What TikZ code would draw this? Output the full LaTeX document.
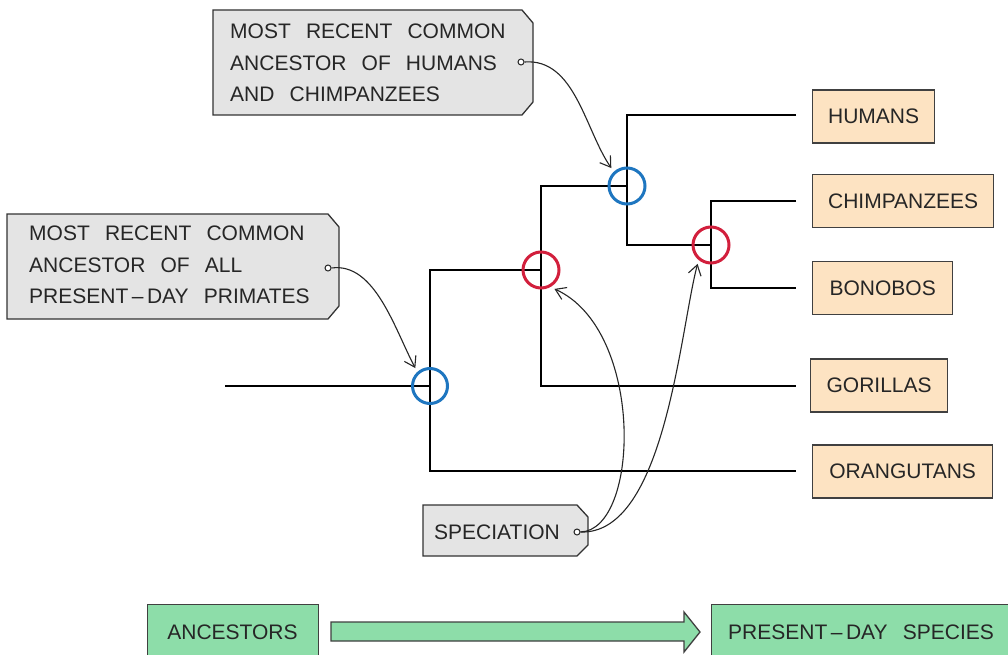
\documentclass[tikz,border=0pt]{standalone}
\usepackage{fontspec}
\setmainfont[WordSpace=2.6]{Liberation Sans}
\usetikzlibrary{arrows.meta,backgrounds}
\definecolor{tagfill}{HTML}{E4E4E4}
\definecolor{spfill}{HTML}{FDE3C2}
\definecolor{grfill}{HTML}{8DDDA9}
\definecolor{nblue}{HTML}{1E76C0}
\definecolor{nred}{HTML}{D21F3C}
\definecolor{txt}{HTML}{262626}
\begin{document}
\begin{tikzpicture}[x=1pt,y=-1pt,
  every node/.style={text=txt,font=\fontsize{21}{31.5}\selectfont},
  species/.style={draw=black!75,line width=1.3pt,fill=spfill,minimum height=53pt,inner sep=0pt,anchor=west},
  tagtext/.style={align=left,inner sep=0pt,anchor=north west},
  tagshape/.style={draw=black!80,line width=1.3pt,fill=tagfill},
  junc/.style={circle,minimum size=36pt,inner sep=0pt},
  branch/.style={line width=2.8pt,black},
  callarrow/.style={line width=1.1pt,black!85,-{Straight Barb[length=10pt,width=13pt]}},
  dotmark/.style={circle,draw=black!85,line width=1pt,fill=white,minimum size=6pt,inner sep=0pt},
  greenbox/.style={draw=black!75,line width=1.3pt,fill=grfill,inner sep=0pt}
]
\clip (0,0) rectangle (1008,655);

% species boxes
\node[species,minimum width=122pt] (hum) at (812,116.5) {HUMANS};
\node[species,minimum width=181pt] (chi) at (812,201) {CHIMPANZEES};
\node[species,minimum width=140pt] (bon) at (812,288) {BONOBOS};
\node[species,minimum width=137pt] (gor) at (810,385.5) {GORILLAS};
\node[species,minimum width=180pt] (ora) at (812,471.5) {ORANGUTANS};

% junctions
\node[junc] (j1) at (430,386) {};
\node[junc] (j2) at (541,270) {};
\node[junc] (j3) at (627,186) {};
\node[junc] (j4) at (711,245) {};

\coordinate (root) at (225,386);
\coordinate (humE) at (796,115);
\coordinate (chiE) at (796,201);
\coordinate (bonE) at (796,288);
\coordinate (gorE) at (796,386);
\coordinate (oraE) at (796,471);

\draw[branch] (root) -- (j1.center);
\draw[branch] (j2.center) -| (j1.center) |- (oraE);
\draw[branch] (j3.center) -| (j2.center) |- (gorE);
\draw[branch] (humE) -| (j3.center) |- (j4.center);
\draw[branch] (chiE) -| (j4.center) |- (bonE);

\draw[nblue,line width=3pt] (j1) circle (17.5pt);
\draw[nred,line width=3pt] (j2) circle (18pt);
\draw[nblue,line width=3pt] (j3) circle (18pt);
\draw[nred,line width=3pt] (j4) circle (18pt);

% callout 1
\node[tagtext] (t1) at (230,24) {MOST RECENT COMMON\\ANCESTOR OF HUMANS\\AND CHIMPANZEES};
% callout 2
\node[tagtext] (t2) at (29,226) {MOST RECENT COMMON\\ANCESTOR OF ALL\\PRESENT\,--\,DAY PRIMATES};
% speciation
\node[anchor=west,inner sep=0pt] (t3) at (434,532) {SPECIATION};

\begin{scope}[on background layer]
\fill[white] (0,0) rectangle (1008,655);
\draw[tagshape] (213,10) -- (522,10) -- (533,23) -- (533,102) -- (522,115) -- (213,115) -- cycle;
\draw[tagshape] (7,214) -- (328,214) -- (339,227) -- (339,306) -- (328,319) -- (7,319) -- cycle;
\draw[tagshape] (423,505) -- (577,505) -- (588,517) -- (588,545) -- (577,556) -- (423,556) -- cycle;
\end{scope}

\node[dotmark] (d1) at (521,62) {};
\node[dotmark] (d2) at (328,268) {};
\node[dotmark] (d3) at (577,532) {};

\draw[callarrow] (d1.east) .. controls (575,58) and (585,130) .. ([shift={(-4,-4)}]j3.130);
\draw[callarrow] (d2.east) .. controls (375,262) and (395,330) .. ([shift={(-3,-4)}]j1.130);
\draw[callarrow] (d3.east) .. controls (640,530) and (645,330) .. ([shift={(3,4)}]j2.-55);
\draw[callarrow] (d3.east) .. controls (665,535) and (680,330) .. ([shift={(-3,4)}]j4.235);

% bottom legend
\node[greenbox,minimum width=171pt,minimum height=60pt,anchor=north west] (anc) at (147,604) {};
\node[anchor=center] at (232.5,632) {ANCESTORS};
\node[greenbox,minimum width=310pt,minimum height=60pt,anchor=north west] (pds) at (711,604) {};
\node[anchor=west,inner sep=0pt] at (728,632) {PRESENT\,--\,DAY SPECIES};
\draw[greenbox] (331,622) -- (684,622) -- (684,612) -- (700,632) -- (684,652) -- (684,641) -- (331,641) -- cycle;
\end{tikzpicture}
\end{document}
